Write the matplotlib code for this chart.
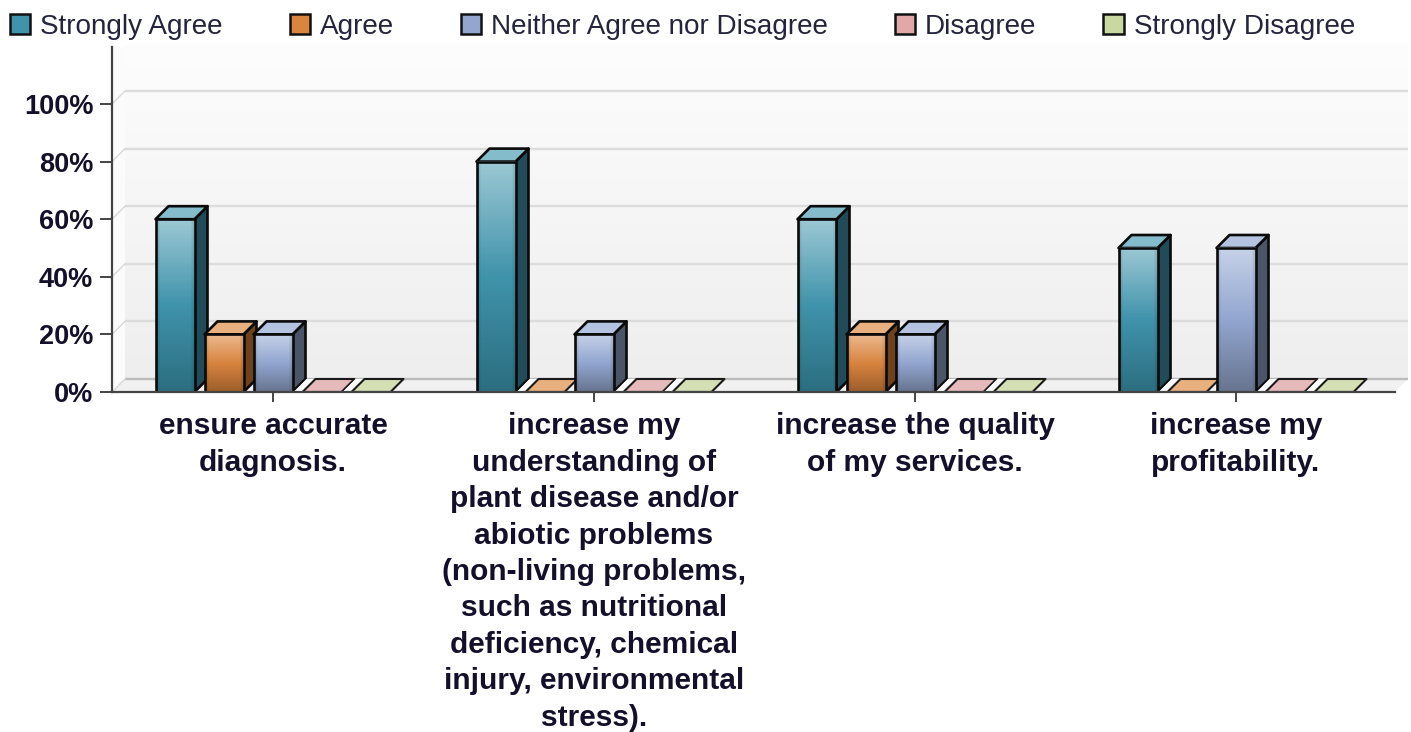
import numpy as np
import matplotlib
matplotlib.use("Agg")
import matplotlib.pyplot as plt
from matplotlib.patches import Polygon, Patch
from matplotlib.colors import LinearSegmentedColormap, to_rgb

plt.rcParams["font.family"] = ["Liberation Sans", "DejaVu Sans"]

categories = ["ensure accurate\ndiagnosis.",
              "increase my\nunderstanding of\nplant disease and/or\nabiotic problems\n(non-living problems,\nsuch as nutritional\ndeficiency, chemical\ninjury, environmental\nstress).",
              "increase the quality\nof my services.",
              "increase my\nprofitability."]
series_names = ["Strongly Agree", "Agree", "Neither Agree nor Disagree", "Disagree", "Strongly Disagree"]
strongly_agree = [60, 80, 60, 50]
agree = [20, 0, 20, 0]
neither = [20, 20, 20, 50]
disagree = [0, 0, 0, 0]
strongly_disagree = [0, 0, 0, 0]
series_values = [strongly_agree, agree, neither, disagree, strongly_disagree]
y_ticks = [0, 20, 40, 60, 80, 100]
y_labels = ["0%", "20%", "40%", "60%", "80%", "100%"]

swatch = ["#3f93ab", "#d9843f", "#92a6d0", "#e0a8a8", "#c8d8a0"]
light = ["#9cc8d4", "#ecba90", "#c6d2e8", "#eec4c4", "#dde8c0"]
dark = ["#2c6e80", "#9c5e2a", "#67748f", "#a08080", "#90a080"]
top_face = ["#85bccb", "#e8b07e", "#b4c4e0", "#e6baba", "#d4dfb4"]
side_face = ["#214b58", "#6e421c", "#4b5568", "#705050", "#607050"]
text_col = "#14102a"

W, H = 1411, 732
L, R, T, B = 112, 1395, 47, 392
group_px, unit_px = 321.0, 288.0 / 100
fig = plt.figure(figsize=(W / 100, H / 100), dpi=100, facecolor="white")
ax = fig.add_axes([L / W, 1 - B / H, (R - L) / W, (B - T) / H], facecolor="none")
x0, x1 = (L - 273) / group_px, (R - 273) / group_px
y1 = (B - T) / unit_px
dx, dy = 13 / group_px, 13 / unit_px
bw, step = 39 / group_px, 49 / group_px

# back wall, floor, grid
wall = LinearSegmentedColormap.from_list("w", ["#fdfdfd", "#eeeeee"])
ax.imshow(np.linspace(0, 1, 256)[:, None], cmap=wall, aspect="auto", zorder=0,
          extent=(x0 + dx, x1 + dx, dy, y1 + dy * 0.23), clip_on=False)
ax.add_patch(Polygon([(x0, 0), (x0 + dx, dy), (x1 + dx, dy), (x1, 0)], fc="#f1f1f1", ec="none", zorder=0.5, clip_on=False))
ax.add_patch(Polygon([(x0, 0), (x0 + dx, dy), (x0 + dx, y1), (x0, y1)], fc="#fbfbfb", ec="none", zorder=0.5, clip_on=False))
for yt in y_ticks:
    c = "#bcbcbc" if yt == 0 else "#dcdcdc"
    ax.plot([x0 + dx, x1 + dx], [yt + dy, yt + dy], color=c, lw=1.7, zorder=1, clip_on=False, solid_capstyle="butt")
    ax.plot([x0, x0 + dx], [yt, yt + dy], color="#d8d8d8", lw=1.0, zorder=1, clip_on=False)

def bar_image(i):
    n = 128
    v = np.linspace(0, 1, n)
    stops = np.array([to_rgb(light[i]), to_rgb(swatch[i]), to_rgb(dark[i])])
    rgb = np.stack([np.interp(v, [0, 0.5, 1], stops[:, k]) for k in range(3)], axis=1)
    img = np.repeat(rgb[:, None, :], 32, axis=1)
    edge = np.minimum(np.arange(32), np.arange(32)[::-1]) / 3.0
    shade = 0.85 + 0.15 * np.clip(edge, 0, 1)
    return img * shade[None, :, None]

z = 2.0
ek = "#0a0a0a"
for g in range(len(categories)):
    for s, vals in enumerate(series_values):
        v = vals[g]
        left = g + (s - 2) * step - bw / 2
        right = left + bw
        if v > 0:
            ax.add_patch(Polygon([(right, 0), (right + dx, dy), (right + dx, v + dy), (right, v)],
                                 fc=side_face[s], ec=ek, lw=1.9, zorder=z, joinstyle="round"))
            ax.add_patch(Polygon([(left, v), (left + dx, v + dy), (right + dx, v + dy), (right, v)],
                                 fc=top_face[s], ec=ek, lw=1.9, zorder=z, joinstyle="round"))
            ax.imshow(bar_image(s), aspect="auto", extent=(left, right, 0, v), zorder=z + 0.1)
            ax.add_patch(Polygon([(left, 0), (left, v), (right, v), (right, 0)], fc="none",
                                 ec=ek, lw=1.9, zorder=z + 0.2, joinstyle="miter"))
        else:
            gap = 9 / group_px
            ax.add_patch(Polygon([(left - gap, 0), (left - gap + dx, dy), (left + dx, dy), (left, 0)],
                                 fc="white", ec="none", zorder=z))
            ax.add_patch(Polygon([(left, 0), (left + dx, dy), (right + dx, dy), (right, 0)],
                                 fc=top_face[s], ec="#1a1a1a", lw=1.5, zorder=z + 0.1, joinstyle="round"))
        z += 1

ax.set_xlim(x0, x1)
ax.set_ylim(0, y1)
for sp in ("top", "right"):
    ax.spines[sp].set_visible(False)
for sp in ("left", "bottom"):
    ax.spines[sp].set_color("#444444")
    ax.spines[sp].set_linewidth(1.6)
    ax.spines[sp].set_zorder(z + 1)
ax.set_yticks(y_ticks, y_labels, fontsize=19.5, fontweight="bold", color=text_col)
ax.tick_params(axis="y", length=8.5, width=1.4, color="#444444", pad=5)
ax.set_xticks(range(len(categories)))
ax.set_xticklabels(categories, fontsize=21.5, fontweight="bold", color=text_col,
                   linespacing=1.385, ma="center")
ax.tick_params(axis="x", length=7.5, width=1.4, color="#444444", pad=7)

handles = [Patch(fc=swatch[i], ec="#111111", lw=1.8) for i in range(5)]
fig.legend(handles, series_names, loc="upper left", bbox_to_anchor=(10 / W, 1 - 14 / H), ncol=5,
           frameon=False, fontsize=20.1, borderpad=0, borderaxespad=0, handlelength=0.72,
           handleheight=0.72, handletextpad=0.36, columnspacing=2.4, labelcolor="#24243c")
fig.savefig("out.png", dpi=100)
